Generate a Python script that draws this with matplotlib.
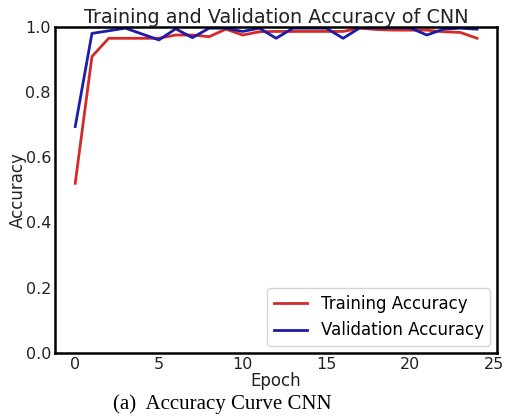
import matplotlib
matplotlib.use("Agg")
import matplotlib.pyplot as plt

epochs = list(range(25))
train_acc = [0.52, 0.909, 0.965, 0.965, 0.965, 0.965, 0.975, 0.975, 0.970, 0.993,
             0.975, 0.985, 0.986, 0.986, 0.986, 0.986, 0.986, 0.996, 0.992, 0.990,
             0.990, 0.990, 0.985, 0.983, 0.965]
val_acc = [0.694, 0.980, 0.988, 0.996, 0.978, 0.960, 0.994, 0.967, 0.996, 0.996,
           0.986, 0.996, 0.965, 0.996, 0.996, 0.996, 0.965, 0.997, 0.997, 0.997,
           0.997, 0.975, 0.993, 0.996, 0.993]

fig = plt.figure(figsize=(5.3, 4.2), dpi=100)
ax = fig.add_axes([0.104, 0.160, 0.834, 0.776])
ax.plot(epochs, train_acc, color="#d42a2a", lw=2, label="Training Accuracy")
ax.plot(epochs, val_acc, color="#1c1caa", lw=2, label="Validation Accuracy")
ax.set_ylim(0, 1.0)
ax.set_xticks([0, 5, 10, 15, 20, 25])
ax.set_yticks([0.0, 0.2, 0.4, 0.6, 0.8, 1.0])
ax.tick_params(length=0, labelsize=11.5, pad=3, colors="#222222")
for s in ax.spines.values():
    s.set_linewidth(1.8)
ax.set_title("Training and Validation Accuracy of CNN", fontsize=13.8, pad=0, color="#222222")
ax.set_xlabel("Epoch", fontsize=12, labelpad=0, color="#222222")
ax.set_ylabel("Accuracy", fontsize=12, labelpad=-1, color="#222222")
ax.legend(loc="lower right", fontsize=12, frameon=True, fancybox=True,
          borderaxespad=0.4)
fig.text(0.42, 0.025, "(a)  Accuracy Curve CNN", family="Liberation Serif", fontsize=15, ha="center")
fig.savefig("out.png", dpi=100)
